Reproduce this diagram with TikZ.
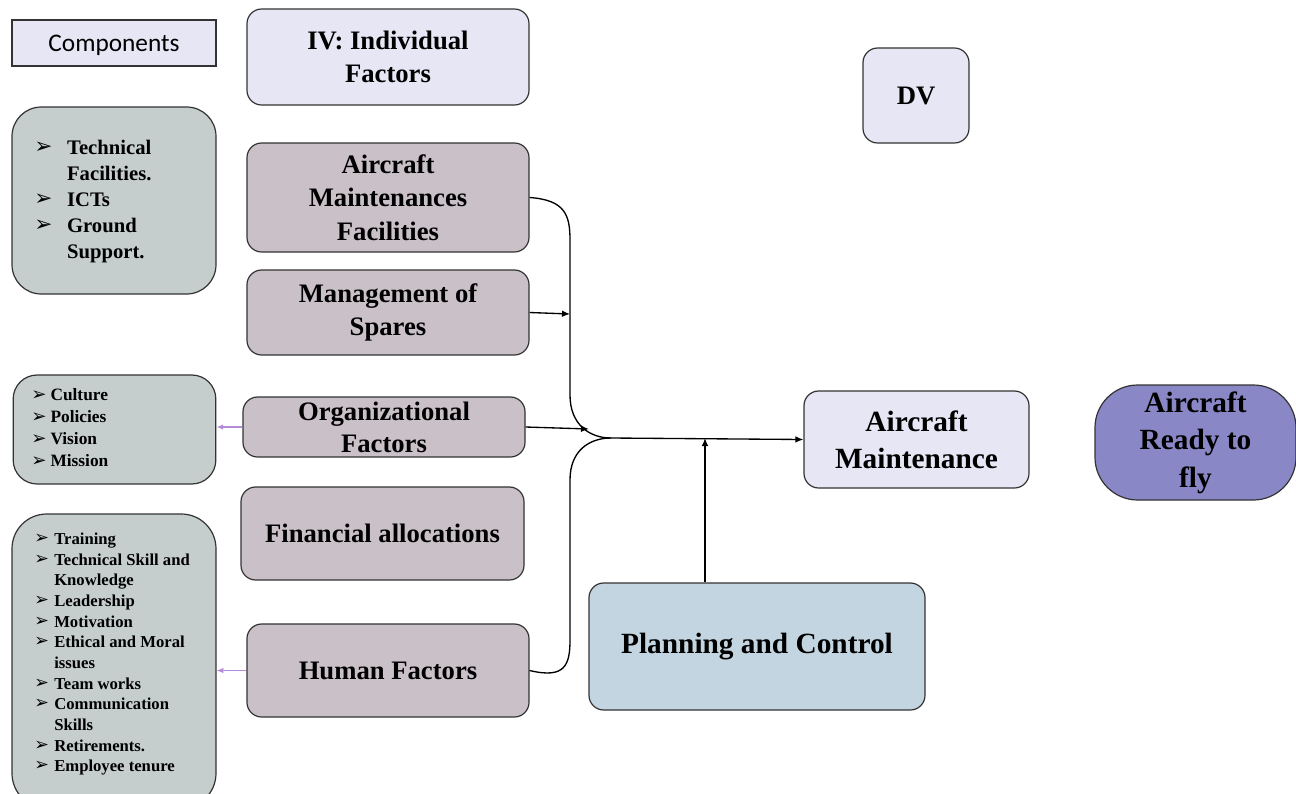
\documentclass[tikz,border=0pt]{standalone}
\usepackage{fontspec}
\setmainfont{Liberation Serif}
\newfontfamily\compfont{Carlito}
\newfontfamily\arrfont{DejaVu Sans}
\usetikzlibrary{arrows.meta,calc}
\definecolor{lav}{RGB}{230,230,244}
\definecolor{mauve}{RGB}{201,193,199}
\definecolor{listc}{RGB}{197,205,205}
\definecolor{planc}{RGB}{195,213,224}
\definecolor{readyc}{RGB}{138,135,198}
\definecolor{purp}{RGB}{181,138,216}
\newcommand\bul{\raisebox{0.05em}{\scalebox{1.05}{\arrfont ➢}}}
\tikzset{
  box/.style={draw=black!80, line width=0.9pt, rounded corners=11pt, align=center, inner sep=2pt,
    font=\bfseries\fontsize{20}{25}\selectfont},
  lavbox/.style={box, fill=lav},
  facbox/.style={box, fill=mauve},
  lstbox/.style={draw=black!80, line width=0.9pt, rounded corners=22pt, fill=listc},
  conn/.style={line width=1pt, black},
  tip/.style={conn, -{Latex[length=6pt,width=5pt]}},
  purarrow/.style={draw=purp, line width=0.8pt, -{Latex[length=5pt,width=4pt]}},
}
\begin{document}
\begin{tikzpicture}[x=0.75pt,y=-0.75pt]
\useasboundingbox (0,0) rectangle (1296,793);
% left column
\node[draw=black!80, line width=0.9pt, fill=lav, minimum width=153pt, minimum height=34.5pt,
  font=\compfont\fontsize{19}{22}\selectfont, text depth=1pt] (comp) at (114,43) {\raisebox{-2pt}{Components}};
\node[lstbox, minimum width=153pt, minimum height=140.25pt] (techbox) at (114,200.5) {};
\node[anchor=west, inner sep=0pt, font=\bfseries\fontsize{15.5}{19.5}\selectfont] (techtxt) at (34,201)
  {\begin{tabular}{@{}l@{\hspace{11pt}}l@{}}\bul&Technical\\&Facilities.\\\bul&ICTs\\\bul&Ground\\&Support.\end{tabular}};
\node[lstbox, rounded corners=18pt, minimum width=152pt, minimum height=81.75pt] (orgbox) at (114.5,429.5) {};
\node[anchor=west, inner sep=0pt, font=\bfseries\fontsize{13}{16.5}\selectfont] (orgtxt) at (31,429.5)
  {\begin{tabular}{@{}l@{\hspace{3pt}}l@{}}\bul&Culture\\\bul&Policies\\\bul&Vision\\\bul&Mission\end{tabular}};
\node[lstbox, rounded corners=26pt, minimum width=153pt, minimum height=220.5pt] (humbox) at (114,661) {};
\node[anchor=west, inner sep=0pt, font=\bfseries\fontsize{12.5}{15.5}\selectfont] (humtxt) at (34,654)
  {\begin{tabular}{@{}l@{\hspace{4pt}}l@{}}\bul&Training\\\bul&Technical Skill and\\&Knowledge\\\bul&Leadership\\\bul&Motivation\\\bul&Ethical and Moral\\&issues\\\bul&Team works\\\bul&Communication\\&Skills\\\bul&Retirements.\\\bul&Employee tenure\end{tabular}};
% factor column
\node[lavbox, minimum width=211.5pt, minimum height=72pt] (iv) at (388,57) {IV: Individual\\Factors};
\node[facbox, minimum width=211.5pt, minimum height=81.75pt] (amf) at (388,197.5) {Aircraft\\Maintenances\\Facilities};
\node[facbox, minimum width=211.5pt, minimum height=63.75pt] (mos) at (388,312.5) {Management of\\Spares};
\node[facbox, minimum width=211.5pt, minimum height=45pt, font=\bfseries\fontsize{20}{24}\selectfont] (org) at (384,427) {Organizational\\Factors};
\node[facbox, minimum width=212.25pt, minimum height=69.75pt] (fin) at (382.5,533.5) {Financial allocations};
\node[facbox, minimum width=211.5pt, minimum height=69.75pt] (hf) at (388,670.5) {Human Factors};
% right part
\node[lavbox, minimum width=79.5pt, minimum height=71.25pt] (dv) at (916,95.5) {DV};
\node[lavbox, minimum width=168.75pt, minimum height=72.75pt, font=\bfseries\fontsize{22}{28}\selectfont] (am) at (916.5,439.5) {Aircraft\\Maintenance};
\node[box, fill=planc, minimum width=252pt, minimum height=95.25pt, font=\bfseries\fontsize{22}{26}\selectfont] (pc) at (757,646.5) {Planning and Control};
\node[box, fill=readyc, rounded corners=32pt, minimum width=150.75pt, minimum height=86.25pt, inner sep=0pt,
  font=\bfseries\fontsize{22}{28}\selectfont] (ready) at (1195.5,442.5) {Aircraft\\Ready to\\fly};
% connectors
\coordinate (J) at (611,438);
\coordinate (mosend) at (570,314);
\coordinate (orgend) at (589,429);
\coordinate (pcend) at (705,438);
\draw[conn] (amf.east) .. controls (565,200) and (570,215) .. (570,240) -- (570,395)
  .. controls (570,425) and (590,438) .. (J);
\draw[conn] (hf.east) .. controls (565,679) and (570,665) .. (570,640) -- (570,480)
  .. controls (570,450) and (590,438) .. (J);
\draw[tip] (mos.east) -- (mosend);
\draw[tip] (org.east) -- (orgend);
\draw[tip] (J) -- (am.west);
\draw[tip] (pc.north -| pcend) -- (pcend);
\draw[purarrow] (org.west) -- (org.west -| orgbox.east);
\draw[purarrow] (hf.west) -- (hf.west -| humbox.east);
\end{tikzpicture}
\end{document}
